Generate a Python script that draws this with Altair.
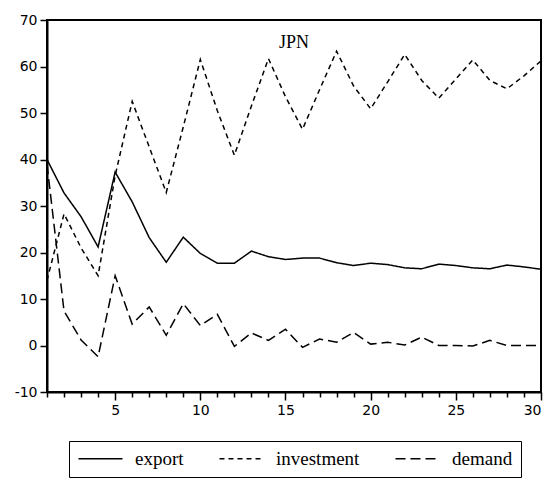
import altair as alt
import pandas as pd

periods = list(range(1, 31))
export = [40.0, 32.8, 27.7, 21.2, 37.3, 30.9, 23.2, 17.9, 23.3, 19.8,
          17.7, 17.7, 20.3, 19.1, 18.5, 18.8, 18.8, 17.8, 17.2, 17.7,
          17.4, 16.7, 16.5, 17.5, 17.2, 16.7, 16.5, 17.3, 16.9, 16.4]
investment = [14.0, 28.3, 21.0, 15.0, 36.5, 52.5, 42.7, 32.9, 47.0, 61.5,
              50.5, 40.9, 51.5, 61.7, 53.5, 46.5, 55.0, 63.3, 55.8, 50.9,
              56.7, 62.6, 57.0, 53.2, 57.3, 61.4, 57.0, 55.2, 58.0, 61.2]
demand = [39.0, 7.4, 1.2, -2.4, 15.0, 4.6, 8.3, 2.2, 9.0, 4.3,
          6.7, -0.2, 2.7, 1.1, 3.5, -0.4, 1.4, 0.7, 2.8, 0.3,
          0.7, 0.1, 1.8, 0.0, 0.0, -0.1, 1.1, 0.0, 0.0, 0.0]
series_names = ["export", "investment", "demand"]
y_ticks = [-10, 0, 10, 20, 30, 40, 50, 60, 70]

rows = []
for name, vals in zip(series_names, [export, investment, demand]):
    for p, v in zip(periods, vals):
        rows.append({"period": p, "value": v, "series": name})
df = pd.DataFrame(rows)

chart = alt.Chart(df).mark_line(color="black", strokeWidth=1.5, clip=True).encode(
    x=alt.X("period:Q",
            scale=alt.Scale(domain=[1, 30], nice=False, zero=False),
            axis=alt.Axis(values=periods, title=None, grid=False,
                          labelExpr="datum.value % 5 == 0 ? datum.label : ''",
                          tickSize={"condition": {"test": "datum.value % 5 === 0", "value": 8}, "value": 5},
                          labelPadding=3)),
    y=alt.Y("value:Q",
            scale=alt.Scale(domain=[-10, 70], nice=False, zero=False),
            axis=alt.Axis(values=y_ticks, title=None, grid=False, tickSize=7, labelPadding=3,
                          labelExpr="'' + datum.value")),
    strokeDash=alt.StrokeDash("series:N",
                              scale=alt.Scale(domain=series_names,
                                              range=[[1, 0], [5, 4], [10, 5]]),
                              legend=alt.Legend(title=None, orient="none", direction="horizontal",
                                                legendX=22, legendY=421,
                                                symbolType="M-1.6,0H7.2", symbolSize=100,
                                                symbolStrokeColor="black", symbolStrokeWidth=1.5,
                                                symbolFillColor="transparent",
                                                labelFont="Liberation Serif", labelFontSize=19,
                                                labelColor="black", labelOffset=39,
                                                columnPadding=32,
                                                strokeColor="black", padding=8,
                                                fillColor="white")),
    detail="series:N",
).properties(
    width=494, height=372,
    title=alt.TitleParams("JPN", anchor="middle", dy=43, font="Liberation Serif",
                          fontSize=18, fontWeight="normal", color="black"),
    autosize=alt.AutoSizeParams(type="none"),
    padding={"left": 47, "top": 20, "right": 19, "bottom": 88},
    background="white",
).configure_view(
    stroke="black", strokeWidth=2
).configure_axis(
    domainColor="black", domainWidth=2, tickColor="black", tickWidth=1.5,
    labelFont="DejaVu Sans", labelFontSize=14, labelColor="black"
)

chart.save("out.html", embed_options={"renderer": "svg", "actions": False})
